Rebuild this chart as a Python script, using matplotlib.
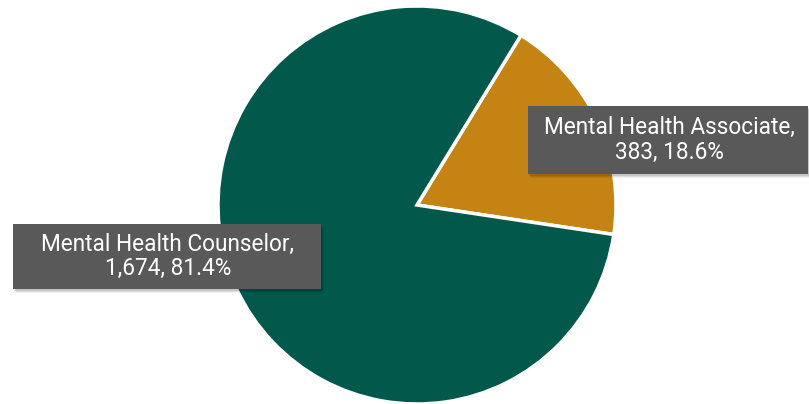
import matplotlib.pyplot as plt
from matplotlib.patches import Rectangle

categories = ["Mental Health Associate", "Mental Health Counselor"]
counts = [383, 1674]
colors = ["#C48312", "#02584B"]

total = sum(counts)
labels = ["%s,\n%s, %.1f%%" % (c, format(v, ","), 100.0 * v / total)
          for c, v in zip(categories, counts)]

W, H = 809, 404
fig = plt.figure(figsize=(W / 100, H / 100), dpi=100)
ax = fig.add_axes([0, 0, 1, 1])
ax.set_xlim(0, W)
ax.set_ylim(0, H)
ax.set_aspect("equal")
ax.axis("off")

# pie, center in pixel coords (y measured from bottom)
ax.pie(counts, colors=colors, startangle=58.5, counterclock=False,
       center=(417, H - 205), radius=199,
       wedgeprops=dict(edgecolor="white", linewidth=2.5))
ax.set_xlim(0, W)
ax.set_ylim(0, H)

# label boxes: (left, top, right, bottom) in pixel coords from top
boxes = [(528, 106, 808, 174), (13, 224, 321, 289)]
for (x0, y0, x1, y1), lab in zip(boxes, labels):
    for k, a in [(4, 0.06), (3, 0.08), (2, 0.1)]:
        ax.add_patch(Rectangle((x0 + k - 1, H - y1 - k), x1 - x0, y1 - y0,
                               facecolor="black", alpha=a, edgecolor="none",
                               zorder=4))
    ax.add_patch(Rectangle((x0, H - y1), x1 - x0, y1 - y0,
                           facecolor="#595959", edgecolor="none", zorder=5))
    ax.text((x0 + x1) / 2 + 1, H - (y0 + y1) / 2, lab, ha="center", va="center",
            color="white", fontsize=16.3, linespacing=1.1, zorder=6,
            family=["Roboto", "DejaVu Sans"])

fig.savefig("out.png", dpi=100)
